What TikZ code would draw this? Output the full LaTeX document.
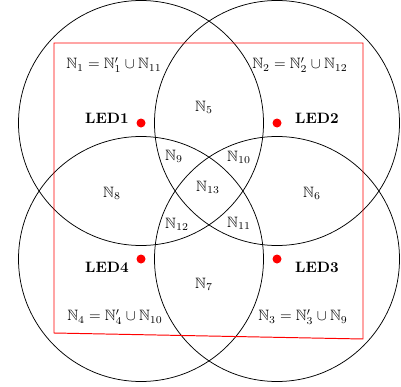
\documentclass[tikz,border=0pt]{standalone}
\usepackage{amssymb}
\begin{document}
\begin{tikzpicture}[x=0.6667pt,y=-0.6667pt,
  ring/.style={draw=black,line width=0.5pt},
  zone/.style={draw=red,line width=0.65pt},
  led/.style={circle,fill=red,inner sep=0pt,minimum size=6pt},
  ledname/.style={font=\bfseries},
  region/.style={inner sep=1pt}]
\useasboundingbox (0,0) rectangle (401,387);
% LED positions (circle centres)
\node[led] (l1) at (141,123) {};
\node[led] (l2) at (277,123) {};
\node[led] (l3) at (277,259) {};
\node[led] (l4) at (141,259) {};
% coverage circles
\foreach \c in {l1,l2,l3,l4} \draw[ring] (\c.center) circle (122.5);
% red room outline
\coordinate (r1) at (54,43);
\coordinate (r2) at (363,43);
\coordinate (r3) at (363,339);
\coordinate (r4) at (54,333);
\draw[zone] (r1) -- (r2) -- (r3) -- (r4) -- cycle;
% LED names
\node[ledname] (t1) at (107,118) {LED1};
\node[ledname] (t2) at (317,118) {LED2};
\node[ledname] (t3) at (317,267) {LED3};
\node[ledname] (t4) at (107,267) {LED4};
% region labels
\node[region] (n1) at (114,65) {$\mathbb{N}_1=\mathbb{N}_1'\cup\mathbb{N}_{11}$};
\node[region] (n2) at (300,65) {$\mathbb{N}_2=\mathbb{N}_2'\cup\mathbb{N}_{12}$};
\node[region] (n3) at (303,317) {$\mathbb{N}_3=\mathbb{N}_3'\cup\mathbb{N}_{9}$};
\node[region] (n4) at (115,317) {$\mathbb{N}_4=\mathbb{N}_4'\cup\mathbb{N}_{10}$};
\node[region] (n5) at (204,107) {$\mathbb{N}_5$};
\node[region] (n6) at (312,193) {$\mathbb{N}_6$};
\node[region] (n7) at (204,284) {$\mathbb{N}_7$};
\node[region] (n8) at (112,193) {$\mathbb{N}_8$};
\node[region] (n9) at (174,156) {$\mathbb{N}_9$};
\node[region] (n10) at (239,157) {$\mathbb{N}_{10}$};
\node[region] (n11) at (239,223) {$\mathbb{N}_{11}$};
\node[region] (n12) at (177,224) {$\mathbb{N}_{12}$};
\node[region] (n13) at (208,187) {$\mathbb{N}_{13}$};
\end{tikzpicture}
\end{document}
